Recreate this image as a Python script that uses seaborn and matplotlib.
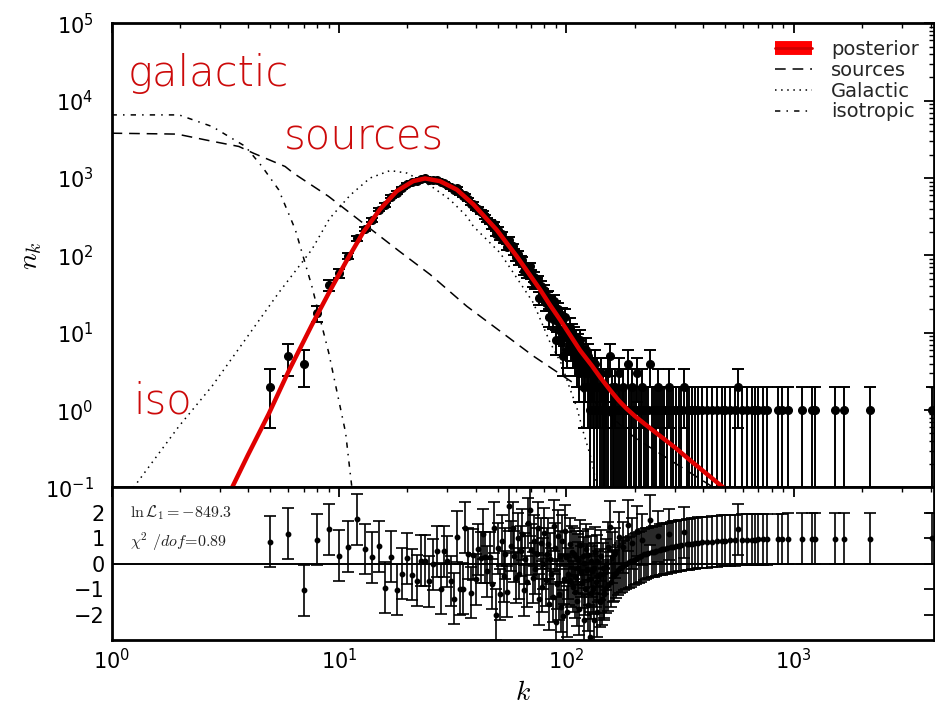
import numpy as np
import pandas as pd
import matplotlib
matplotlib.use("Agg")
import matplotlib.pyplot as plt
import seaborn as sns
from matplotlib.lines import Line2D
from matplotlib.legend_handler import HandlerTuple

# ---- model curves (k, expected n_k) ----
post_k = [3.39, 3.98, 4.91, 6.0, 7.6, 9.16, 10.8, 12.8, 15.2, 17.95, 21.2, 23.9,
          27.8, 33.0, 39.0, 49.4, 60.5, 76.6, 84.7, 93.8, 115, 130, 141, 155,
          170, 185, 200, 220, 250, 300, 360, 420, 490]
post_n = [0.1, 0.263, 0.891, 3.16, 12.6, 35.5, 85.1, 200, 398, 676, 912, 989,
          912, 708, 457, 214, 97.7, 36.3, 22.9, 14.8, 5.9, 3.7, 2.65, 1.85,
          1.33, 1.03, 0.84, 0.67, 0.5, 0.33, 0.21, 0.145, 0.1]

src_k = [1.0, 1.94, 2.80, 3.63, 4.2, 5.8, 6.3, 9.0, 12.2, 18.3, 25.2, 36.5,
         71.6, 107, 200, 444]
src_n = [3800, 3700, 2970, 2560, 2100, 1410, 1160, 580, 290, 115, 56.5, 22,
         5.0, 2.26, 0.44, 0.1]

gal_k = [1.25, 1.98, 2.77, 3.88, 5.43, 7.6, 9.1, 11.2, 13.7, 16.8, 19.9, 25.2,
         30.8, 36.5, 39.0, 51.1, 71.6, 84.8, 95.0, 104, 111, 119, 129, 136.5]
gal_n = [0.1, 0.62, 2.05, 8.2, 32.8, 119, 300, 600, 1000, 1250, 1160, 800,
         525, 320, 238, 108, 24.4, 7.5, 4.0, 1.85, 1.1, 0.51, 0.23, 0.1]

iso_k = [1.0, 1.98, 2.77, 3.88, 4.59, 5.43, 6.43, 7.6, 9.02, 10.7, 11.2, 11.4]
iso_n = [6550, 6550, 4630, 2560, 1410, 707, 215, 40, 5.5, 0.51, 0.156, 0.1]

# ---- observed counts, k = 5 ... 130 ----
core_k = list(range(5, 131))
core_n = [2, 5, 4, 18, 41, 59, 99, 166, 221, 290, 390, 448, 574, 649, 739, 828,
          884, 916, 968, 993, 947, 956, 955, 882, 871, 818, 757, 702, 736, 633,
          586, 600, 534, 464, 465, 408, 400, 365,
          357, 317, 285, 273, 238, 258, 191, 215, 173, 189, 158, 158, 129, 158,
          131, 131, 111, 95, 105, 85, 88, 87, 63, 70, 58, 72, 72, 57, 46, 53,
          43, 45, 48, 28, 40, 28, 31, 36, 24, 28, 29, 16, 24, 20, 15, 26, 21, 8,
          14, 20, 11, 16, 8, 17, 5, 10, 16, 12,
          6, 9, 8, 12, 7, 10, 6, 9, 5, 8, 4, 7, 6, 3, 8, 5, 4, 6, 2, 5, 3, 6, 4,
          2, 5, 3, 1, 4, 2, 3]
core_res = [0.86, 1.18, -1.05, 0.95, 1.36, 0.31, 0.67, 1.75, 0.58, 0.26, 0.69,
            -0.95, 0.28, -1.03, -0.40, 0.22, -0.43, -0.66, 0.12, 0.12, -0.69,
            -0.03, 0.49, -0.99, 0.49, 0.10, -0.68, -1.38, 1.07, -1.0, -0.99,
            1.42, 0.39, -1.14, 0.36, -0.62, 0.56, 0.23,
            1.17, 0.26, -0.3, 0.26, -0.8, 1.42, -2.0, 0.6, -1.2, 0.9, -0.5,
            0.39, -1.1, 2.27, 0.7, 1.42, 0.3, -0.55, 1.0, -0.4, 0.5, 1.16,
            -1.04, 0.2, -0.7, 1.6, 2.1, 0.55, -0.55, 0.9, -0.2, 0.4, 1.42,
            -1.4, 0.8, -0.9, 0.0, 1.2, -0.65, 0.4, 0.78, -1.6, 0.2, -0.39,
            -1.3, 1.5, 0.6, -2.3, -0.8, 1.1, -1.2, 0.3, -1.7, 0.9, -2.05,
            -0.6, 1.3, 0.26,
            -1.88, -0.4, -0.64, 0.78, -0.72, 0.47, -0.9, 0.4, -1.12, 0.28,
            -1.45, 0.15, -0.16, -1.79, 0.74, -0.31, -0.75, 0.29, -2.2, 0.04,
            -1.01, 0.57, -0.23, -1.63, 0.36, -0.61, -2.9, 0.1, -1.17, -0.29]

# ---- observed counts in the sparse tail ----
tail_k = [131, 132, 133, 134, 135, 136, 137, 138, 140, 141, 142, 143, 145, 146,
          147, 149, 150, 152, 153, 155, 157, 158, 160, 162, 164, 165, 168, 170,
          172, 175, 177, 180, 183, 186, 189, 192, 195, 198, 202, 205, 208, 212,
          216, 220, 224, 228, 233, 237, 242, 247, 252, 258, 263, 270, 276, 283,
          290, 296, 305, 313, 320, 330, 338, 347, 357, 368, 380,
          394, 414, 436, 459, 482, 499, 525, 552, 571, 590, 621, 653, 676, 699,
          735, 760, 855, 885, 947, 1084, 1199, 1241, 1520, 1668, 2166, 4045]
tail_n = [2, 3, 1, 4, 2, 1, 3, 2, 2, 1, 3, 1, 2, 1, 1, 2, 1, 3, 1, 5, 1, 2, 1,
          1, 2, 1, 1, 3, 1, 1, 2, 1, 1, 4, 1, 1, 2, 1, 1, 3, 1, 1, 2, 1, 1, 1,
          4, 1, 1, 1, 2, 1, 1, 1, 1, 2, 1, 1, 1, 1, 1, 2, 1, 1, 1, 1, 1,
          1, 1, 1, 1, 1, 1, 1, 1, 2, 1, 1, 1, 1, 1, 1, 1, 1, 1, 1, 1, 1, 1, 1,
          1, 1, 1]
tail_res = [-0.99, -0.17, -2.2, 0.45, -0.71, -1.9, 0.12, -0.5, -0.42, -1.5,
            0.32, -1.4, -0.18, -1.2, -1.15, -0.04, -0.95, 0.64, -0.85, 1.45,
            -0.7, 0.25, -0.5, -0.45, 0.42, -0.35, -0.25, 1.04, -0.17, -0.12,
            0.64, -0.05, 0.0, 1.51, 0.05, 0.1, 0.8, 0.16, 0.2, 1.29, 0.26,
            0.29, 0.94, 0.37, 0.4, 0.42, 1.72, 0.46, 0.48, 0.5, 1.08, 0.55,
            0.57, 0.59, 0.61, 1.15, 0.65, 0.67, 0.69, 0.71, 0.72, 1.23, 0.76,
            0.77, 0.79, 0.8, 0.82,
            0.84, 0.85, 0.87, 0.88, 0.9, 0.9, 0.92, 0.92, 1.36, 0.94, 0.94,
            0.95, 0.95, 0.96, 0.96, 0.96, 0.97, 0.97, 0.98, 0.98, 0.98, 0.99,
            0.99, 0.99, 0.99, 1.0]

legend_labels = ["posterior", "sources", "Galactic", "isotropic"]
tag_labels = ["galactic", "sources", "iso"]
stat_labels = [r"$\ln\mathcal{L}_1=-849.3$", r"$\chi^2\ /dof\!=\!0.89$"]

# ---- styling ----
sns.set_theme(style="white")
plt.rcParams.update({
    "font.family": ["DejaVu Sans"],
    "mathtext.fontset": "dejavusans",
    "axes.linewidth": 2.0,
    "axes.edgecolor": "black",
    "xtick.direction": "in",
    "ytick.direction": "in",
    "xtick.color": "black",
    "ytick.color": "black",
    "axes.labelcolor": "black",
})

k_all = np.array(core_k + tail_k, dtype=float)
n_all = np.array(core_n + tail_n, dtype=float)
r_all = np.array(core_res + tail_res, dtype=float)

fig = plt.figure(figsize=(9.35, 7.07), dpi=100)
ax = fig.add_axes([0.1193, 0.3105, 0.8794, 0.6565])
axr = fig.add_axes([0.1193, 0.0948, 0.8794, 0.2157], sharex=ax)

ax.set_xscale("log")
ax.set_yscale("log")

# data points with Poisson errors
ax.errorbar(k_all, n_all, yerr=np.sqrt(n_all), fmt="o", color="black",
            ms=5.5, capsize=4.5, elinewidth=1.4, capthick=1.4, zorder=3)

curves = pd.concat([
    pd.DataFrame({"k": src_k, "n": src_n, "comp": "sources"}),
    pd.DataFrame({"k": gal_k, "n": gal_n, "comp": "Galactic"}),
    pd.DataFrame({"k": iso_k, "n": iso_n, "comp": "isotropic"}),
])
styles = {"sources": (0, (7, 4.5)), "Galactic": (0, (1, 3)),
          "isotropic": (0, (3.5, 4, 1, 4))}
for comp, sub in curves.groupby("comp", sort=False):
    sns.lineplot(data=sub, x="k", y="n", ax=ax, color="black", lw=1.1,
                 linestyle=styles[comp], sort=False, estimator=None,
                 legend=False, zorder=2)

post_df = pd.DataFrame({"k": post_k, "n": post_n})
sns.lineplot(data=post_df, x="k", y="n", ax=ax, color="#e00000", lw=3.2,
             sort=False, estimator=None, legend=False, zorder=5)

ax.set_xlim(1, 4130)
ax.set_ylim(0.1, 1e5)
ax.set_xlabel("")
ax.set_ylabel(r"$n_k$", fontsize=20, math_fontfamily="cm")
ax.yaxis.set_label_coords(-0.082, 0.5)

for a in (ax, axr):
    a.tick_params(which="both", direction="in", top=True, right=True,
                  labelsize=15)
    a.tick_params(which="major", length=7, width=1.3)
    a.tick_params(which="minor", length=3.5, width=1.0)
ax.tick_params(axis="y", which="both", pad=13)
axr.tick_params(axis="y", which="both", pad=5)
axr.tick_params(axis="x", which="both", pad=6)
ax.tick_params(labelbottom=False)

# component tags
tag_style = dict(color="#cc0a0a", fontsize=30, fontweight="light",
                 transform=ax.transAxes, va="baseline", ha="left")
ax.text(0.019, 0.865, tag_labels[0], **tag_style)
ax.text(0.209, 0.728, tag_labels[1], **tag_style)
ax.text(0.026, 0.160, tag_labels[2], **tag_style)

# legend
h_post = (Line2D([], [], color="#ff0000", lw=10, solid_capstyle="butt"),
          Line2D([], [], color="#d00000", lw=2))
h_src = Line2D([], [], color="black", lw=1.1, linestyle=styles["sources"])
h_gal = Line2D([], [], color="black", lw=1.1, linestyle=styles["Galactic"])
h_iso = Line2D([], [], color="black", lw=1.1, linestyle=styles["isotropic"])
ax.legend([h_post, h_src, h_gal, h_iso], legend_labels,
          handler_map={tuple: HandlerTuple(ndivide=1)},
          loc="upper right", bbox_to_anchor=(0.996, 0.99), frameon=False,
          fontsize=14, labelspacing=0.1, handlelength=1.9,
          handletextpad=1.0, borderaxespad=0.2)

# residual panel
axr.axhline(0, color="black", lw=1.4, zorder=1)
axr.errorbar(k_all, r_all, yerr=np.ones_like(r_all), fmt="o", color="black",
             ms=3.2, capsize=4, elinewidth=1.2, capthick=1.2, zorder=3)
axr.set_ylim(-3, 3)
axr.set_yticks([-2, -1, 0, 1, 2])
axr.set_xlim(1, 4130)
axr.set_xlabel(r"$k$", fontsize=20, math_fontfamily="cm")
axr.xaxis.set_label_coords(0.5, -0.25)
axr.set_ylabel("")

axr.text(0.0225, 0.834, stat_labels[0], transform=axr.transAxes, fontsize=11.5,
         va="center", ha="left", math_fontfamily="cm", color="#222222")
axr.text(0.0225, 0.645, stat_labels[1], transform=axr.transAxes, fontsize=11.5,
         va="center", ha="left", math_fontfamily="cm", color="#222222")

fig.savefig("out.png", dpi=100)
